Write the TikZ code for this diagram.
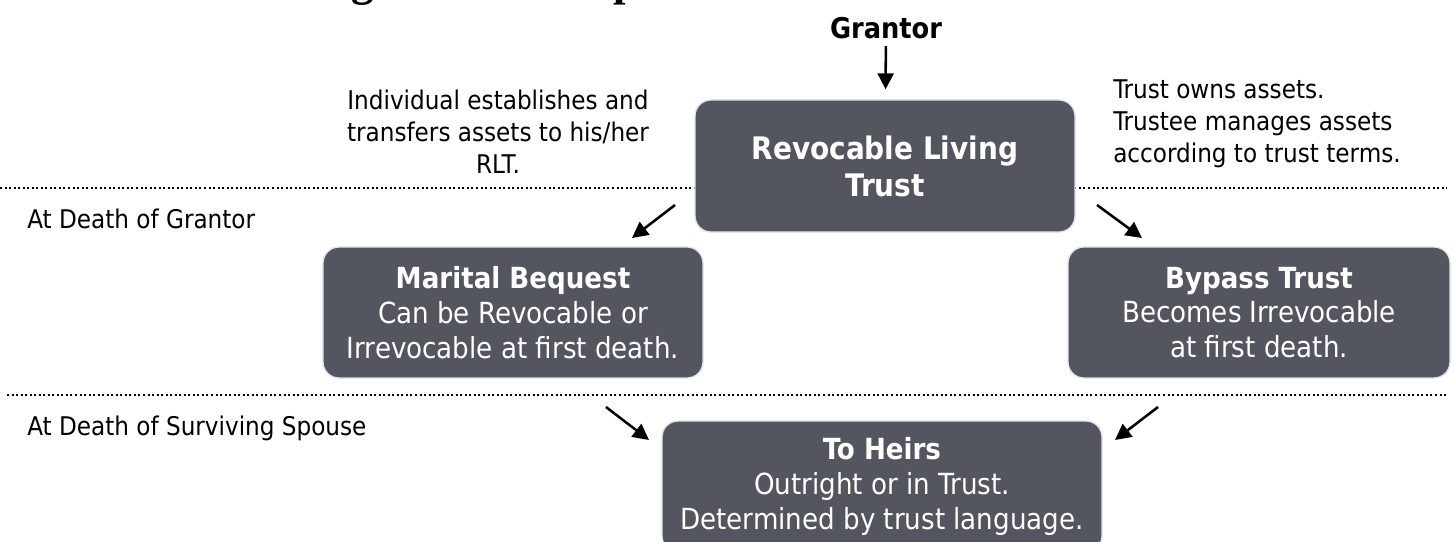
\documentclass[tikz,border=0pt]{standalone}
\usepackage{fontspec}
\setmainfont{DejaVu Sans Condensed}
\newfontfamily\titlefont{Liberation Serif}
\usetikzlibrary{arrows.meta}
\definecolor{trustgray}{RGB}{83,86,94}
\definecolor{trustedge}{RGB}{222,227,235}

\begin{document}
\begin{tikzpicture}[x=0.75pt,y=-0.75pt,
    box/.style={draw=trustedge,line width=1pt,fill=trustgray,rounded corners=12pt,
      text=white,align=center,font=\fontsize{21.8}{26}\selectfont},
    lbl/.style={align=center,inner sep=0pt,font=\fontsize{19.3}{24}\selectfont},
    arr/.style={line width=1.9pt,-{Triangle[length=12pt,width=12pt]}},
    sep/.style={line width=1.5pt,dash pattern=on 1.5pt off 1.9pt}]
    \useasboundingbox (0,0) rectangle (1453,542);
    \clip (0,0) rectangle (1453,542);
    % title, cut off at the top
    \node [anchor=base west,inner sep=0pt,font=\titlefont\bfseries\fontsize{33.75}{40}\selectfont] (title) at (40,-4) {Revocable Living Trust Example};
    % time lines
    \draw [sep] (0,188) -- (1447,188);
    \draw [sep] (7,395) -- (1447,395);
    \node [lbl,anchor=base west] (deathgrantor) at (27,228) {At Death of Grantor};
    \node [lbl,anchor=base west] (deathspouse) at (27,435) {At Death of Surviving Spouse};
    % boxes
    \node [inner sep=0pt,font=\fontsize{21.4}{26}\bfseries] (grantor) at (886,28.5) {Grantor};
    \node [box,minimum width=285pt,minimum height=99pt,font=\fontsize{23.3}{27.7}\bfseries] (rlt) at (885,166) {Revocable Living\\Trust};
    \node [box,minimum width=285pt,minimum height=98.25pt] (marital) at (513,312.5) {{\bfseries Marital Bequest}\\Can be Revocable or\\Irrevocable at first death.};
    \node [box,minimum width=286.5pt,minimum height=98.25pt] (bypass) at (1259,312.5) {{\bfseries Bypass Trust}\\Becomes Irrevocable\\at first death.};
    \node [box,minimum width=330pt,minimum height=98.25pt] (heirs) at (882,486.5) {{\bfseries To Heirs}\\Outright or in Trust.\\Determined by trust language.};
    % notes
    \node [lbl] (establish) at (498,132) {Individual establishes and\\transfers assets to his/her\\RLT.};
    \node [lbl,anchor=west,align=left] (owns) at (1113,124) {Trust owns assets.\\Trustee manages assets\\according to trust terms.};
    % arrows
    \coordinate (maritalfrom) at (675,205);
    \coordinate (maritalto) at (632,238);
    \coordinate (bypassfrom) at (1097,205);
    \coordinate (bypassto) at (1142,238);
    \coordinate (heirsfromleft) at (606,407);
    \coordinate (heirstoleft) at (649,440);
    \coordinate (heirsfromright) at (1158,407);
    \coordinate (heirstoright) at (1115,440);
    \draw [arr,shorten <=5pt,shorten >=7.5pt] (grantor) -- (rlt);
    \draw [arr] (maritalfrom) -- (maritalto);
    \draw [arr] (bypassfrom) -- (bypassto);
    \draw [arr] (heirsfromleft) -- (heirstoleft);
    \draw [arr] (heirsfromright) -- (heirstoright);
\end{tikzpicture}
\end{document}
